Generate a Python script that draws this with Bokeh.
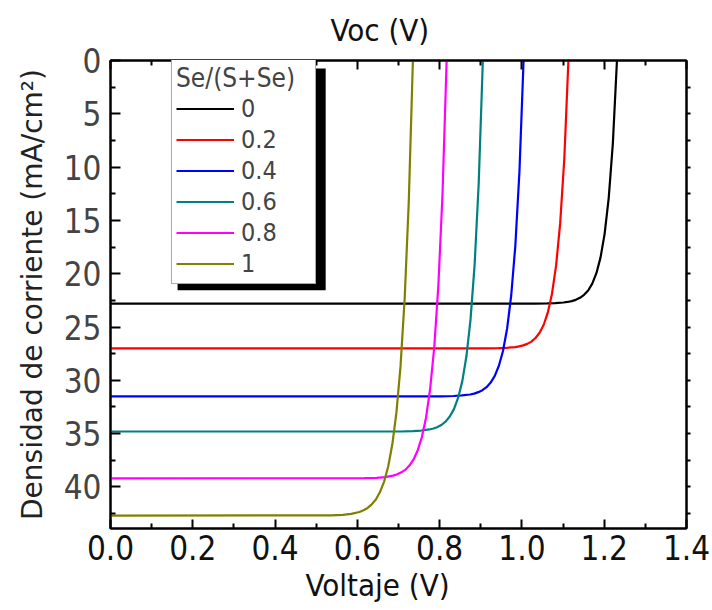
from bokeh.plotting import figure
from bokeh.models import (Range1d, LinearAxis, FixedTicker, Legend, LegendItem, Title,
                          BoxAnnotation, PrintfTickFormatter, CustomLabelingPolicy)
from bokeh.embed import file_html
from bokeh.resources import INLINE

FONT = "DejaVu Sans Condensed"

# Se/(S+Se) ratio series, J-V curves
ratios = ["0", "0.2", "0.4", "0.6", "0.8", "1"]
colors = ["#000000", "#ff0000", "#0000ff", "#008080", "#ff00ff", "#808000"]

v_0 = [1.241, 1.231, 1.221, 1.211, 1.201, 1.191, 1.181, 1.171, 1.161, 1.151, 1.141, 1.131, 1.121, 1.111, 1.101, 1.081, 1.061, 1.031, 0.0]
j_0 = [-11.8, 0.0, 7.77, 12.88, 16.26, 18.49, 19.95, 20.93, 21.57, 21.98, 22.26, 22.45, 22.57, 22.65, 22.70, 22.76, 22.78, 22.8, 22.8]

v_02 = [1.123, 1.113, 1.103, 1.093, 1.083, 1.073, 1.063, 1.053, 1.043, 1.033, 1.023, 1.013, 1.003, 0.993, 0.983, 0.963, 0.943, 0.913, 0.0]
j_02 = [-14.0, 0.0, 9.21, 15.26, 19.25, 21.90, 23.63, 24.79, 25.54, 26.03, 26.37, 26.58, 26.72, 26.82, 26.88, 26.95, 26.98, 27.0, 27.0]

v_04 = [1.014, 1.004, 0.994, 0.984, 0.974, 0.964, 0.954, 0.944, 0.934, 0.924, 0.914, 0.904, 0.894, 0.884, 0.874, 0.854, 0.834, 0.804, 0.0]
j_04 = [-15.5, 0.0, 10.40, 17.36, 22.02, 25.14, 27.25, 28.63, 29.58, 30.21, 30.64, 30.93, 31.11, 31.25, 31.33, 31.42, 31.47, 31.5, 31.5]

v_06 = [0.915, 0.905, 0.895, 0.885, 0.875, 0.865, 0.855, 0.845, 0.835, 0.825, 0.815, 0.805, 0.795, 0.785, 0.775, 0.755, 0.735, 0.705, 0.0]
j_06 = [-17.1, 0.0, 11.48, 19.17, 24.33, 27.77, 30.10, 31.63, 32.68, 33.37, 33.85, 34.17, 34.37, 34.52, 34.61, 34.71, 34.76, 34.8, 34.8]

v_08 = [0.827, 0.817, 0.807, 0.797, 0.787, 0.777, 0.767, 0.757, 0.747, 0.737, 0.727, 0.717, 0.707, 0.697, 0.687, 0.667, 0.647, 0.617, 0.0]
j_08 = [-18.4, 0.0, 12.50, 21.05, 26.85, 30.77, 33.48, 35.30, 36.53, 37.40, 37.97, 38.38, 38.63, 38.81, 38.94, 39.08, 39.15, 39.18, 39.2]

v_1 = [0.745, 0.735, 0.725, 0.715, 0.705, 0.695, 0.685, 0.675, 0.665, 0.655, 0.645, 0.635, 0.625, 0.615, 0.605, 0.585, 0.565, 0.535, 0.0]
j_1 = [-19.1, 0.0, 13.24, 22.33, 28.65, 33.01, 36.00, 38.09, 39.50, 40.48, 41.18, 41.63, 41.97, 42.19, 42.35, 42.53, 42.62, 42.66, 42.7]

series_v = [v_0, v_02, v_04, v_06, v_08, v_1]
series_j = [j_0, j_02, j_04, j_06, j_08, j_1]

x_major = [0.0, 0.2, 0.4, 0.6, 0.8, 1.0, 1.2, 1.4]
x_minor = [0.1, 0.3, 0.5, 0.7, 0.9, 1.1, 1.3]
y_major = [0, 5, 10, 15, 20, 25, 30, 35, 40]
y_minor = [2.5, 7.5, 12.5, 17.5, 22.5, 27.5, 32.5, 37.5, 42.5]
y_right = [2.5, 5, 7.5, 10, 12.5, 15, 17.5, 20, 22.5, 25, 27.5, 30, 32.5, 35, 37.5, 40, 42.5]

x_label = "Voltaje (V)"
y_label = "Densidad de corriente (mA/cm²)"
top_label = "Voc (V)"

p = figure(width=712, height=610, x_range=Range1d(0, 1.4), y_range=Range1d(43.9, 0),
           output_backend="svg", toolbar_location=None,
           min_border_left=110, min_border_right=26, min_border_top=60, min_border_bottom=82)
p.grid.visible = False
p.outline_line_color = "black"
p.outline_line_width = 2
p.background_fill_color = "white"
p.border_fill_color = "white"

# bottom axis
xa = p.xaxis[0]
xa.ticker = FixedTicker(ticks=x_major, minor_ticks=x_minor)
xa.formatter = PrintfTickFormatter(format="%.1f")
xa.major_label_text_font = FONT
xa.major_label_text_font_size = "33px"
xa.major_label_text_color = "#111111"
xa.major_label_standoff = 6
xa.major_tick_in = 9
xa.major_tick_out = 0
xa.minor_tick_in = 5
xa.minor_tick_out = 0
xa.axis_line_width = 2
xa.major_tick_line_width = 2
xa.minor_tick_line_width = 2

p.add_layout(Title(text=x_label, align="left", offset=195, standoff=5,
                   text_font=FONT, text_font_size="31px", text_font_style="normal",
                   text_color="#111111"), "below")

# left axis
ya = p.yaxis[0]
ya.ticker = FixedTicker(ticks=y_major, minor_ticks=y_minor)
ya.axis_label = y_label
ya.axis_label_text_font = "DejaVu Sans"
ya.axis_label_text_font_size = "28px"
ya.axis_label_text_font_style = "normal"
ya.axis_label_text_color = "#222222"
ya.axis_label_standoff = 12
ya.major_label_text_font = FONT
ya.major_label_text_font_size = "33px"
ya.major_label_text_color = "#444444"
ya.major_label_standoff = 9
ya.major_tick_in = 10
ya.major_tick_out = 0
ya.minor_tick_in = 5
ya.minor_tick_out = 0
ya.axis_line_width = 2
ya.major_tick_line_width = 2
ya.minor_tick_line_width = 2

# top axis (ticks only)
ta = LinearAxis(ticker=FixedTicker(ticks=x_major, minor_ticks=x_minor),
                major_label_policy=CustomLabelingPolicy(code="return []"),
                major_label_text_font_size="1px", major_label_standoff=0,
                axis_label_standoff=0,
                major_tick_in=9, major_tick_out=0,
                minor_tick_in=5, minor_tick_out=0, axis_line_width=2,
                major_tick_line_width=2, minor_tick_line_width=2)
p.add_layout(ta, "above")
p.add_layout(Title(text=top_label, align="left", offset=220, standoff=17,
                   text_font=FONT, text_font_size="31px", text_font_style="normal",
                   text_color="#111111"), "above")

# right axis (ticks only)
ra = LinearAxis(ticker=FixedTicker(ticks=[], minor_ticks=y_right),
                minor_tick_in=0, minor_tick_out=4, major_tick_in=0, major_tick_out=0,
                axis_line_width=2, minor_tick_line_width=2)
p.add_layout(ra, "right")

# legend shadow (decoration)
shadow = BoxAnnotation(left=0.163, right=0.523, top=0.75, bottom=21.56,
                       fill_color="black", fill_alpha=1.0, line_color=None)
p.add_layout(shadow)

items = []
for lab, col, vv, jj in zip(ratios, colors, series_v, series_j):
    r = p.line(vv, jj, line_color=col, line_width=2.2)
    items.append(LegendItem(label=lab, renderers=[r]))

legend = Legend(items=items, location=(61, 244), title="Se/(S+Se)",
                title_text_font=FONT, title_text_font_size="26px",
                title_text_font_style="normal", title_standoff=0,
                label_text_font=FONT, label_text_font_size="25px",
                glyph_width=58, glyph_height=31, label_height=31, label_width=70,
                spacing=0, padding=4, margin=0, label_standoff=7,
                border_line_color="#555555", border_line_width=1,
                background_fill_color="white", background_fill_alpha=1.0)
p.add_layout(legend)

open("out.html", "w").write(file_html(p, INLINE))
